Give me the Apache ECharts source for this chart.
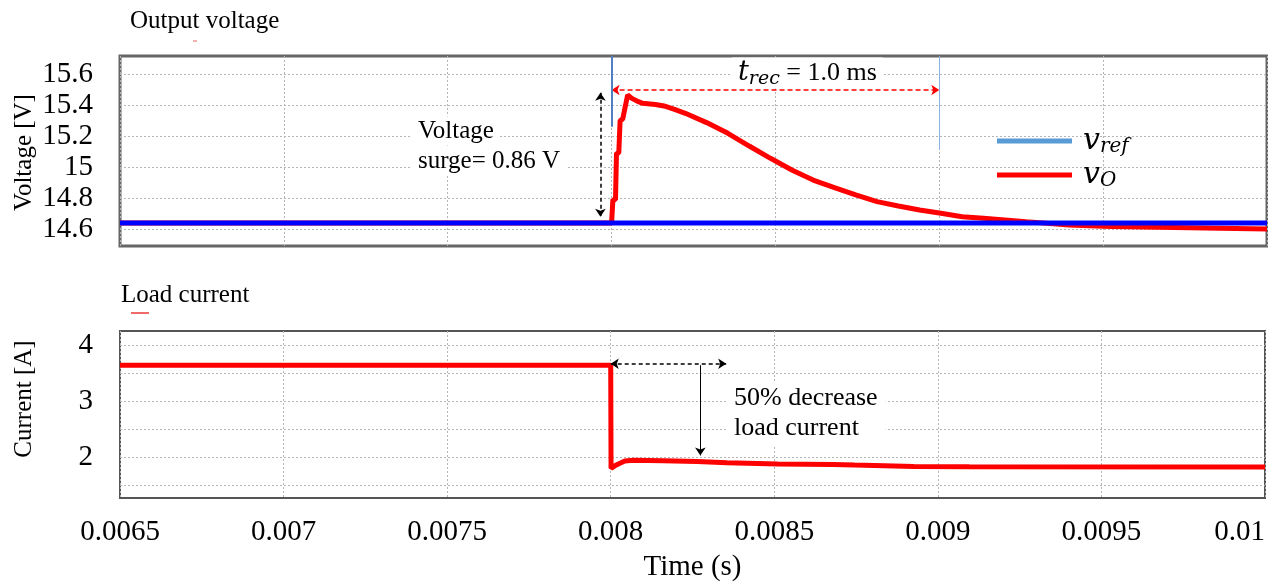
<!DOCTYPE html>
<html><head><meta charset="utf-8">
<script src="https://cdn.jsdelivr.net/npm/echarts@6/dist/echarts.min.js"></script>
<style>html,body{margin:0;padding:0;background:#fff}#c{width:1268px;height:585px}</style>
</head><body><div id="c"></div>
<script>
// ---- data ----
const timeTicks = [0.0065, 0.007, 0.0075, 0.008, 0.0085, 0.009, 0.0095, 0.01];
const voltTicks = [14.6, 14.8, 15, 15.2, 15.4, 15.6];
const currLabels = [2, 3, 4];
const currGridVals = [1.5, 2, 2.5, 3, 3.5, 4];

const vrefT = [0.0065, 0.01];
const vrefV = [14.64, 14.64];

const voT = [0.0065, 0.008, 0.008004, 0.008004, 0.008012, 0.008015, 0.008022, 0.008026, 0.008034, 0.008049,
  0.008062, 0.008082, 0.008095, 0.008134, 0.00816, 0.008192, 0.008225, 0.00829, 0.008355, 0.00842,
  0.008485, 0.00855, 0.008615, 0.00868, 0.008745, 0.00881, 0.008875, 0.00894, 0.009005, 0.00907,
  0.009135, 0.009265, 0.009395, 0.009525, 0.01];
const voV = [14.64, 14.64, 14.64, 14.79, 14.79, 15.09, 15.09, 15.30, 15.31, 15.465,
  15.443, 15.422, 15.411, 15.404, 15.394, 15.372, 15.347, 15.287, 15.218, 15.136,
  15.057, 14.982, 14.917, 14.868, 14.821, 14.778, 14.75, 14.724, 14.703, 14.681,
  14.671, 14.649, 14.628, 14.617, 14.602];

const iT = [0.0065, 0.008, 0.008001, 0.008017, 0.008043, 0.008069, 0.00816, 0.008264, 0.008355,
  0.008511, 0.00868, 0.008745, 0.008927, 0.009096, 0.01];
const iV = [3.64, 3.64, 1.80, 1.86, 1.93, 1.945, 1.935, 1.923, 1.90,
  1.875, 1.869, 1.857, 1.83, 1.827, 1.825];

// ---- chart ----
const zip = (a, b) => a.map((x, i) => [x, b[i]]);
const serif = "'Liberation Serif','Times New Roman',serif";
const mathFont = "'DejaVu Serif',serif";
const gridLine = { show: true, lineStyle: { color: '#b4b4b4', width: 1, type: [2, 2] } };
const tickFont = { fontSize: 29, fontFamily: serif, color: '#000' };

const chart = echarts.init(document.getElementById('c'));
chart.setOption({
  animation: false,
  grid: [
    { left: 120, right: 1, top: 56, height: 190, show: true, borderColor: '#666', borderWidth: 3 },
    { left: 120, right: 1, top: 331, height: 167, show: true, borderColor: '#555', borderWidth: 2 }
  ],
  xAxis: [
    { gridIndex: 0, type: 'value', min: 0.0065, max: 0.01,
      axisLine: { show: false }, axisTick: { show: false, customValues: timeTicks },
      axisLabel: { show: false, customValues: timeTicks }, splitLine: gridLine },
    { gridIndex: 1, type: 'value', min: 0.0065, max: 0.01,
      axisLine: { show: false }, axisTick: { show: false, customValues: timeTicks },
      axisLabel: Object.assign({ customValues: timeTicks, margin: 20, alignMaxLabel: 'right',
        formatter: v => String(v) }, tickFont),
      splitLine: gridLine,
      name: 'Time (s)', nameLocation: 'middle', nameGap: 55,
      nameTextStyle: { fontSize: 29, fontFamily: serif, color: '#000' } }
  ],
  yAxis: [
    { gridIndex: 0, type: 'value', min: 14.492, max: 15.716,
      axisLine: { show: false }, axisTick: { show: false, customValues: voltTicks },
      axisLabel: Object.assign({ customValues: voltTicks, margin: 27 }, tickFont),
      splitLine: gridLine },
    { gridIndex: 1, type: 'value', min: 1.27, max: 4.25,
      axisLine: { show: false }, axisTick: { show: false, customValues: currGridVals },
      axisLabel: Object.assign({ customValues: currLabels, margin: 27 }, tickFont),
      splitLine: gridLine }
  ],
  legend: {
    orient: 'vertical', left: 992, top: 121, itemWidth: 75, itemHeight: 5, itemGap: 3,
    icon: 'rect', selectedMode: false,
    data: [{ name: 'vref', itemStyle: { color: '#5b9bd5' } }, { name: 'vO', itemStyle: { color: '#ff0000' } }],
    formatter: n => n === 'vref' ? '{v|v}{s|ref}' : '{v|v}{s|O}',
    textStyle: { rich: {
      v: { fontFamily: mathFont, fontStyle: 'italic', fontSize: 30, lineHeight: 30, color: '#000', padding: [0, 0, 0, 6] },
      s: { fontFamily: mathFont, fontStyle: 'italic', fontSize: 20, color: '#000', padding: [12, 0, 0, 0] }
    } }
  },
  series: [
    { name: 'vO', type: 'line', xAxisIndex: 0, yAxisIndex: 0, data: zip(voT, voV),
      showSymbol: false, lineStyle: { color: '#ff0000', width: 5 }, itemStyle: { color: '#ff0000' }, z: 2,
      markLine: { silent: true, symbol: ['arrow', 'arrow'], symbolSize: 8, label: { show: false },
        data: [
          [{ coord: [0.008, 15.497], lineStyle: { color: '#ff0000', type: [5, 3], width: 1.5 } }, { coord: [0.009, 15.497] }],
          [{ coord: [0.007966, 15.48], lineStyle: { color: '#000', type: [4, 3], width: 1.5 } }, { coord: [0.007966, 14.68] }]
        ] } },
    { name: 'vref', type: 'line', xAxisIndex: 0, yAxisIndex: 0, data: zip(vrefT, vrefV),
      showSymbol: false, lineStyle: { color: '#0000ff', width: 5 }, itemStyle: { color: '#0000ff' }, z: 3,
      markLine: { silent: true, symbol: 'none', label: { show: false },
        data: [
          [{ coord: [0.008, 15.716], lineStyle: { color: '#4f7fc0', width: 2, type: 'solid' } }, { coord: [0.008, 15.26] }],
          [{ coord: [0.009, 15.716], lineStyle: { color: '#8fb0dc', width: 1, type: 'solid' } }, { coord: [0.009, 15.11] }]
        ] } },
    { name: 'Load', type: 'line', xAxisIndex: 1, yAxisIndex: 1, data: zip(iT, iV),
      showSymbol: false, lineStyle: { color: '#ff0000', width: 5 }, itemStyle: { color: '#ff0000' }, z: 2,
      markLine: { silent: true, symbolSize: 8, label: { show: false },
        data: [
          [{ coord: [0.008, 3.665], symbol: 'arrow', lineStyle: { color: '#000', type: [4, 3], width: 1.5 } }, { coord: [0.008353, 3.665], symbol: 'arrow' }],
          [{ coord: [0.008274, 3.64], symbol: 'none', lineStyle: { color: '#000', type: 'solid', width: 1 } }, { coord: [0.008274, 2.03], symbol: 'arrow' }]
        ] } }
  ],
  graphic: [
    { type: 'text', x: 130, y: 21, style: { text: 'Output voltage', fontSize: 25, fontFamily: serif, fill: '#000', verticalAlign: 'middle' } },
    { type: 'rect', shape: { x: 193, y: 40, width: 4, height: 2 }, style: { fill: '#f4b0b0' } },
    { type: 'text', x: 121, y: 295, style: { text: 'Load current', fontSize: 25, fontFamily: serif, fill: '#000', verticalAlign: 'middle' } },
    { type: 'rect', shape: { x: 131, y: 312, width: 18, height: 2 }, style: { fill: '#f06a6a' } },
    { type: 'text', x: 24.5, y: 152.5, rotation: Math.PI / 2, style: { text: 'Voltage [V]', fontSize: 25, fontFamily: serif, fill: '#000', align: 'center', verticalAlign: 'middle' } },
    { type: 'text', x: 24.5, y: 399, rotation: Math.PI / 2, style: { text: 'Current [A]', fontSize: 25, fontFamily: serif, fill: '#000', align: 'center', verticalAlign: 'middle' } },
    { type: 'text', x: 412, y: 131, z: 10, style: { text: 'Voltage', fontSize: 25, fontFamily: serif, fill: '#000', verticalAlign: 'middle', backgroundColor: '#fff', padding: [2, 6] } },
    { type: 'text', x: 412, y: 161, z: 10, style: { text: 'surge= 0.86 V', fontSize: 25, fontFamily: serif, fill: '#000', verticalAlign: 'middle', backgroundColor: '#fff', padding: [2, 6] } },
    { type: 'text', x: 732, y: 73, z: 10, style: { text: '{t|t}{s|rec}{n| = 1.0 ms}', verticalAlign: 'middle', backgroundColor: '#fff', padding: [0, 6],
      rich: {
        t: { fontFamily: mathFont, fontStyle: 'italic', fontSize: 27, fill: '#000' },
        s: { fontFamily: mathFont, fontStyle: 'italic', fontSize: 19, fill: '#000', padding: [12, 0, 0, 0] },
        n: { fontFamily: serif, fontSize: 26, fill: '#000' }
      } } },
    { type: 'text', x: 726, y: 413, z: 10, style: { text: '50% decrease\nload current', fontSize: 26, lineHeight: 30, fontFamily: serif, fill: '#000', verticalAlign: 'middle', backgroundColor: '#fff', padding: [2, 8] } }
  ]
});
</script></body></html>
